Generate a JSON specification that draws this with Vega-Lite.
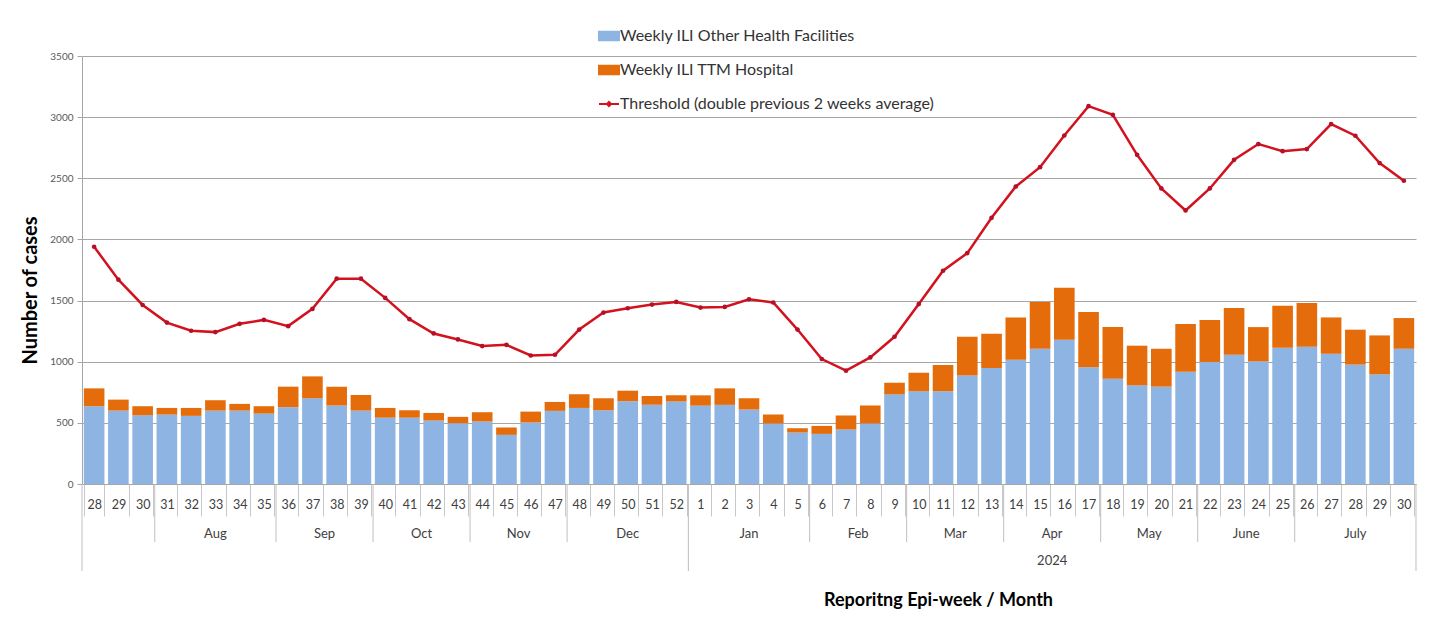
{
  "$schema": "https://vega.github.io/schema/vega-lite/v6.json",
  "padding": {"left": 20, "top": 25, "right": 10, "bottom": 5},
  "background": "white",
  "data": {"values": [
    {"seq":1,"key":"2023-28","month":"","year":"","other":636,"ttm":146,"threshold":1940},
    {"seq":2,"key":"2023-29","month":"","year":"","other":600,"ttm":90,"threshold":1671},
    {"seq":3,"key":"2023-30","month":"","year":"","other":562,"ttm":74,"threshold":1464},
    {"seq":4,"key":"2023-31","month":"Aug","year":"","other":568,"ttm":54,"threshold":1320},
    {"seq":5,"key":"2023-32","month":"Aug","year":"","other":557,"ttm":65,"threshold":1253},
    {"seq":6,"key":"2023-33","month":"Aug","year":"","other":600,"ttm":85,"threshold":1242},
    {"seq":7,"key":"2023-34","month":"Aug","year":"","other":600,"ttm":55,"threshold":1310},
    {"seq":8,"key":"2023-35","month":"Aug","year":"","other":576,"ttm":60,"threshold":1342},
    {"seq":9,"key":"2023-36","month":"Sep","year":"","other":628,"ttm":168,"threshold":1291},
    {"seq":10,"key":"2023-37","month":"Sep","year":"","other":701,"ttm":179,"threshold":1432},
    {"seq":11,"key":"2023-38","month":"Sep","year":"","other":641,"ttm":155,"threshold":1679},
    {"seq":12,"key":"2023-39","month":"Sep","year":"","other":600,"ttm":128,"threshold":1679},
    {"seq":13,"key":"2023-40","month":"Oct","year":"","other":543,"ttm":79,"threshold":1522},
    {"seq":14,"key":"2023-41","month":"Oct","year":"","other":543,"ttm":60,"threshold":1348},
    {"seq":15,"key":"2023-42","month":"Oct","year":"","other":519,"ttm":62,"threshold":1231},
    {"seq":16,"key":"2023-43","month":"Oct","year":"","other":497,"ttm":52,"threshold":1182},
    {"seq":17,"key":"2023-44","month":"Nov","year":"","other":511,"ttm":76,"threshold":1128},
    {"seq":18,"key":"2023-45","month":"Nov","year":"","other":402,"ttm":60,"threshold":1138},
    {"seq":19,"key":"2023-46","month":"Nov","year":"","other":503,"ttm":89,"threshold":1051},
    {"seq":20,"key":"2023-47","month":"Nov","year":"","other":598,"ttm":73,"threshold":1057},
    {"seq":21,"key":"2023-48","month":"Dec","year":"","other":622,"ttm":112,"threshold":1263},
    {"seq":22,"key":"2023-49","month":"Dec","year":"","other":603,"ttm":98,"threshold":1402},
    {"seq":23,"key":"2023-50","month":"Dec","year":"","other":677,"ttm":86,"threshold":1437},
    {"seq":24,"key":"2023-51","month":"Dec","year":"","other":649,"ttm":71,"threshold":1467},
    {"seq":25,"key":"2023-52","month":"Dec","year":"","other":674,"ttm":51,"threshold":1489},
    {"seq":26,"key":"2024-1","month":"Jan","year":"2024","other":641,"ttm":84,"threshold":1443},
    {"seq":27,"key":"2024-2","month":"Jan","year":"2024","other":647,"ttm":135,"threshold":1448},
    {"seq":28,"key":"2024-3","month":"Jan","year":"2024","other":609,"ttm":92,"threshold":1511},
    {"seq":29,"key":"2024-4","month":"Jan","year":"2024","other":494,"ttm":74,"threshold":1484},
    {"seq":30,"key":"2024-5","month":"Jan","year":"2024","other":421,"ttm":35,"threshold":1263},
    {"seq":31,"key":"2024-6","month":"Feb","year":"2024","other":410,"ttm":65,"threshold":1022},
    {"seq":32,"key":"2024-7","month":"Feb","year":"2024","other":446,"ttm":114,"threshold":927},
    {"seq":33,"key":"2024-8","month":"Feb","year":"2024","other":494,"ttm":147,"threshold":1035},
    {"seq":34,"key":"2024-9","month":"Feb","year":"2024","other":733,"ttm":95,"threshold":1204},
    {"seq":35,"key":"2024-10","month":"Mar","year":"2024","other":758,"ttm":152,"threshold":1471},
    {"seq":36,"key":"2024-11","month":"Mar","year":"2024","other":758,"ttm":215,"threshold":1744},
    {"seq":37,"key":"2024-12","month":"Mar","year":"2024","other":888,"ttm":316,"threshold":1888},
    {"seq":38,"key":"2024-13","month":"Mar","year":"2024","other":948,"ttm":281,"threshold":2177},
    {"seq":39,"key":"2024-14","month":"Apr","year":"2024","other":1016,"ttm":346,"threshold":2433},
    {"seq":40,"key":"2024-15","month":"Apr","year":"2024","other":1106,"ttm":382,"threshold":2591},
    {"seq":41,"key":"2024-16","month":"Apr","year":"2024","other":1180,"ttm":425,"threshold":2850},
    {"seq":42,"key":"2024-17","month":"Apr","year":"2024","other":954,"ttm":452,"threshold":3090},
    {"seq":43,"key":"2024-18","month":"May","year":"2024","other":861,"ttm":422,"threshold":3019},
    {"seq":44,"key":"2024-19","month":"May","year":"2024","other":807,"ttm":324,"threshold":2692},
    {"seq":45,"key":"2024-20","month":"May","year":"2024","other":796,"ttm":310,"threshold":2417},
    {"seq":46,"key":"2024-21","month":"May","year":"2024","other":918,"ttm":390,"threshold":2237},
    {"seq":47,"key":"2024-22","month":"June","year":"2024","other":997,"ttm":344,"threshold":2417},
    {"seq":48,"key":"2024-23","month":"June","year":"2024","other":1057,"ttm":382,"threshold":2651},
    {"seq":49,"key":"2024-24","month":"June","year":"2024","other":1003,"ttm":280,"threshold":2780},
    {"seq":50,"key":"2024-25","month":"June","year":"2024","other":1115,"ttm":343,"threshold":2722},
    {"seq":51,"key":"2024-26","month":"July","year":"2024","other":1123,"ttm":357,"threshold":2739},
    {"seq":52,"key":"2024-27","month":"July","year":"2024","other":1065,"ttm":297,"threshold":2943},
    {"seq":53,"key":"2024-28","month":"July","year":"2024","other":976,"ttm":286,"threshold":2848},
    {"seq":54,"key":"2024-29","month":"July","year":"2024","other":897,"ttm":318,"threshold":2624},
    {"seq":55,"key":"2024-30","month":"July","year":"2024","other":1106,"ttm":251,"threshold":2480}
  ]},
  "resolve": {"scale": {"x": "independent"}},
  "spacing": 0,
  "bounds": "flush",
  "vconcat": [
    {
      "width": 1334,
      "height": 428,
      "layer": [
        {
          "transform": [{"fold": ["other", "ttm"], "as": ["series", "cases"]}],
          "mark": {"type": "bar"},
          "encoding": {
            "x": {
              "field": "key", "type": "nominal", "sort": null,
              "scale": {"paddingInner": 0.15, "paddingOuter": 0.075},
              "axis": {
                "title": null, "tickBand": "extent", "tickSize": 32, "tickColor": "#c8c8c8",
                "domainColor": "#a6a6a6", "labelExpr": "split(datum.value, '-')[1]",
                "labelAngle": 0, "labelBaseline": "middle", "labelPadding": -12,
                "labelFontSize": 12.5, "labelColor": "#404040", "labelFont": "Lato"
              }
            },
            "y": {
              "field": "cases", "type": "quantitative", "stack": "zero",
              "scale": {"domain": [0, 3500], "nice": false},
              "axis": {
                "title": "Number of cases", "values": [0, 500, 1000, 1500, 2000, 2500, 3000, 3500], "format": "d",
                "grid": true, "gridColor": "#a6a6a6", "domainColor": "#a6a6a6", "tickColor": "#a6a6a6",
                "tickSize": 5, "labelFontSize": 10, "labelColor": "#595959", "labelFont": "Lato", "labelPadding": 4,
                "titleFont": "Lato", "titleFontSize": 20, "titleFontWeight": "bold", "titleColor": "#000000",
                "titleX": -52, "titleY": 234, "titleBaseline": "middle", "titleAlign": "center", "titleAngle": -90
              }
            },
            "color": {
              "field": "series", "type": "nominal",
              "scale": {"domain": ["other", "ttm", "threshold"], "range": ["#8DB4E2", "#E46C0A", "#D3121F"]},
              "legend": {
                "orient": "none", "legendX": 516, "legendY": -31, "title": null,
                "labelExpr": "datum.value === 'other' ? 'Weekly ILI Other Health Facilities' : datum.value === 'ttm' ? 'Weekly ILI TTM Hospital' : 'Threshold (double previous 2 weeks average)'",
                "labelFont": "Lato", "labelFontSize": 16, "labelColor": "#333333", "labelOffset": 0, "labelLimit": 0,
                "symbolSize": 400, "rowPadding": 14,
                "encode": {"symbols": {"update": {
                  "shape": {"signal": "datum.value === 'threshold' ? 'M-1,0H1M0,-0.2L0.2,0L0,0.2L-0.2,0Z' : 'M-1,-0.42H1V0.42H-1Z'"},
                  "fill": {"scale": "color", "field": "value"},
                  "stroke": {"scale": "color", "field": "value"},
                  "strokeWidth": {"value": 2},
                  "opacity": {"value": 1}
                }}}
              }
            },
            "order": {"field": "series", "sort": "ascending"}
          }
        },
        {
          "mark": {"type": "line", "strokeWidth": 2.5},
          "encoding": {
            "x": {"field": "key", "type": "nominal", "sort": null},
            "y": {"field": "threshold", "type": "quantitative"},
            "color": {"datum": "threshold"}
          }
        },
        {
          "mark": {"type": "point", "filled": true, "size": 22, "opacity": 1, "color": "#B5102A"},
          "encoding": {
            "x": {"field": "key", "type": "nominal", "sort": null},
            "y": {"field": "threshold", "type": "quantitative"}
          }
        }
      ]
    },
    {
      "width": 1334,
      "height": 58,
      "layer": [
        {
          "transform": [{"aggregate": [{"op": "min", "field": "seq", "as": "first"}], "groupby": ["month"]}],
          "mark": {"type": "rule", "xOffset": -12.127, "color": "#bfbfbf", "strokeWidth": 1},
          "encoding": {"x": {"field": "first", "type": "quantitative", "scale": {"domain": [0.5, 55.5], "nice": false, "zero": false}, "axis": null}}
        },
        {
          "transform": [{"aggregate": [{"op": "max", "field": "seq", "as": "last"}]}],
          "mark": {"type": "rule", "xOffset": 12.127, "color": "#bfbfbf", "strokeWidth": 1},
          "encoding": {"x": {"field": "last", "type": "quantitative", "axis": null}}
        },
        {
          "transform": [{"filter": "datum.month !== ''"}],
          "mark": {"type": "text", "dy": 21, "font": "Lato", "fontSize": 13, "color": "#404040"},
          "encoding": {
            "x": {"aggregate": "mean", "field": "seq", "type": "quantitative", "axis": null},
            "text": {"field": "month"}
          }
        }
      ]
    },
    {
      "width": 1334,
      "height": 29,
      "layer": [
        {
          "transform": [{"aggregate": [{"op": "min", "field": "seq", "as": "first"}], "groupby": ["year"]}],
          "mark": {"type": "rule", "xOffset": -12.127, "color": "#bfbfbf", "strokeWidth": 1},
          "encoding": {"x": {"field": "first", "type": "quantitative", "scale": {"domain": [0.5, 55.5], "nice": false, "zero": false},
            "axis": {"title": "Reporitng Epi-week / Month", "labels": false, "ticks": false, "domain": false, "grid": false,
              "titleFont": "Lato", "titleFontSize": 18, "titleFontWeight": "bold", "titleColor": "#000000",
              "titleX": 856, "titleY": 29, "titleBaseline": "middle", "titleAlign": "center"}}}
        },
        {
          "transform": [{"aggregate": [{"op": "max", "field": "seq", "as": "last"}]}],
          "mark": {"type": "rule", "xOffset": 12.127, "color": "#bfbfbf", "strokeWidth": 1},
          "encoding": {"x": {"field": "last", "type": "quantitative",
            "axis": {"title": "Reporitng Epi-week / Month", "labels": false, "ticks": false, "domain": false, "grid": false,
              "titleFont": "Lato", "titleFontSize": 18, "titleFontWeight": "bold", "titleColor": "#000000",
              "titleX": 856, "titleY": 29, "titleBaseline": "middle", "titleAlign": "center"}}}
        },
        {
          "transform": [{"filter": "datum.year === '2024'"}],
          "mark": {"type": "text", "dy": 4, "font": "Lato", "fontSize": 13, "color": "#404040"},
          "encoding": {
            "x": {"aggregate": "mean", "field": "seq", "type": "quantitative",
              "axis": {"title": "Reporitng Epi-week / Month", "labels": false, "ticks": false, "domain": false, "grid": false,
                "titleFont": "Lato", "titleFontSize": 18, "titleFontWeight": "bold", "titleColor": "#000000",
                "titleX": 856, "titleY": 29, "titleBaseline": "middle", "titleAlign": "center"}},
            "text": {"field": "year"}
          }
        }
      ]
    }
  ],
  "config": {
    "view": {"stroke": null},
    "font": "Lato"
  }
}
